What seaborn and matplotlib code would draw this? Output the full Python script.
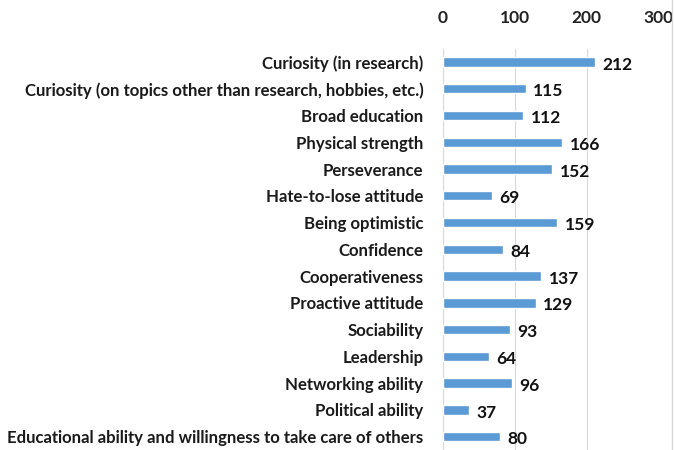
import pandas as pd
import seaborn as sns
import matplotlib.pyplot as plt

# Values
traits = [
    "Curiosity (in research)",
    "Curiosity (on topics other than research, hobbies, etc.)",
    "Broad education",
    "Physical strength",
    "Perseverance",
    "Hate-to-lose attitude",
    "Being optimistic",
    "Confidence",
    "Cooperativeness",
    "Proactive attitude",
    "Sociability",
    "Leadership",
    "Networking ability",
    "Political ability",
    "Educational ability and willingness to take care of others",
]
counts = [212, 115, 112, 166, 152, 69, 159, 84, 137, 129, 93, 64, 96, 37, 80]
x_ticks = [0, 100, 200, 300]

df = pd.DataFrame({"trait": traits, "count": counts})

sns.set_style("white")
plt.rcParams["font.family"] = ["Lato", "DejaVu Sans"]

fig = plt.figure(figsize=(6.75, 4.5), dpi=100)
ax = fig.add_axes([0.656, 0.0, 0.32, 0.892])

sns.barplot(data=df, x="count", y="trait", color="#5B9BD5", saturation=1,
            width=0.35, orient="h", ax=ax, zorder=3)

ax.set_xlim(0, 300)
ax.set_xticks(x_ticks)
ax.xaxis.tick_top()
ax.tick_params(axis="x", length=0, pad=16, labelsize=12.5, labelcolor="#222222")
ax.tick_params(axis="y", length=0, pad=14, labelsize=12.1, labelcolor="#1a1a1a")
for lbl in ax.get_xticklabels() + ax.get_yticklabels():
    lbl.set_fontweight("bold")
ax.set_xlabel("")
ax.set_ylabel("")
ax.grid(axis="x", color="#d9d9d9", linewidth=0.8, zorder=0)
for side in ["top", "right", "bottom"]:
    ax.spines[side].set_visible(False)
ax.spines["left"].set_color("#d9d9d9")

# value labels at the end of each bar
for i, v in enumerate(counts):
    ax.text(v + 10, i + 0.1, str(v), va="center", ha="left", fontsize=12.5,
            fontweight="bold", color="#111111")

# thin frame line at the right edge, as in the reference
fig.add_artist(plt.Line2D([0.996, 0.996], [0, 1], color="#d9d9d9", linewidth=1))

fig.savefig("out.png", dpi=100)
